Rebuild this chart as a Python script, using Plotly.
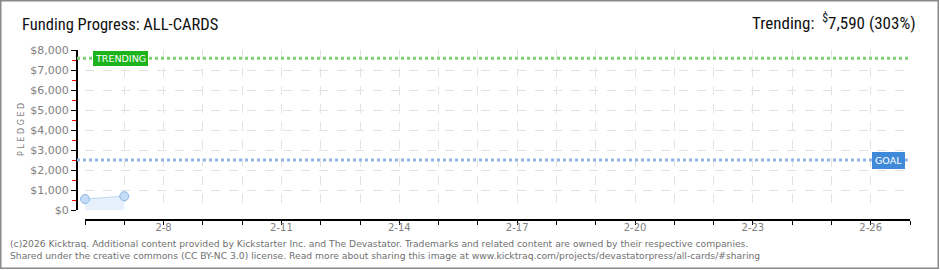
import plotly.graph_objects as go

# ---- data ----
dates = ["2026-02-06", "2026-02-07"]
pledged = [550, 690]
goal = 2500
trending = 7590
trending_pct = 303
x_start = "2026-02-06"
x_end = "2026-02-27"
y_max = 8000
title_text = "Funding Progress: ALL-CARDS"
footer_lines = [
    "(c)2026 Kicktraq. Additional content provided by Kickstarter Inc. and The Devastator. Trademarks and related content are owned by their respective companies.",
    "Shared under the creative commons (CC BY-NC 3.0) license. Read more about sharing this image at www.kicktraq.com/projects/devastatorpress/all-cards/#sharing",
]

W, H = 940, 270
ML, MR, MT, MB = 77, 30, 50, 50
PW, PH = W - ML - MR, H - MT - MB

def px(x):
    return (x - ML) / PW

def py(y):
    return (H - MB - y) / PH

FONT = "DejaVu Sans"
TFONT = "Liberation Sans Narrow, Roboto Condensed, Roboto"
GRAY = "#808080"

fig = go.Figure()

fig.add_trace(go.Scatter(
    x=dates, y=pledged, mode="lines+markers",
    fill="tozeroy", fillcolor="#e6f1fd",
    line=dict(color="#bcd6f2", width=1),
    marker=dict(size=9, color="#c4dcf6", line=dict(color="#90b8e4", width=1)),
    cliponaxis=False,
    hoverinfo="skip", showlegend=False,
))

# trending and goal lines
fig.add_shape(type="line", xref="paper", yref="y", x0=0, x1=1, y0=trending, y1=trending,
              line=dict(color="#7fcf76", width=3, dash="dot"))
fig.add_shape(type="line", xref="paper", yref="y", x0=0, x1=1, y0=goal, y1=goal,
              line=dict(color="#8fb8e4", width=3, dash="dot"))

# border
fig.add_shape(type="rect", xref="paper", yref="paper",
              x0=px(0.75), x1=px(W - 1.75), y0=py(0.75), y1=py(H - 1.75),
              line=dict(color="#8a8a8a", width=1.5), layer="above")

anns = []
anns.append(dict(x=px(93), y=trending, xref="paper", yref="y", text="TRENDING",
                 showarrow=False, xanchor="left", yanchor="middle",
                 font=dict(family=FONT, size=9.5, color="white"),
                 bgcolor="#1cb31c", borderpad=1, bordercolor="#1cb31c", borderwidth=1))
anns.append(dict(x=px(905), y=goal, xref="paper", yref="y", text="GOAL",
                 showarrow=False, xanchor="right", yanchor="middle",
                 font=dict(family=FONT, size=9.5, color="white"),
                 bgcolor="#3f8ad8", borderpad=2, bordercolor="#3f8ad8", borderwidth=1))
anns.append(dict(x=px(20), y=py(24), xref="paper", yref="paper", text=title_text,
                 showarrow=False, xanchor="left", yanchor="middle",
                 font=dict(family=TFONT, size=16.5, color="#111")))
anns.append(dict(x=px(918), y=py(22), xref="paper", yref="paper",
                 text=f"Trending:  <sup>$</sup>{trending:,} ({trending_pct}%)",
                 showarrow=False, xanchor="right", yanchor="middle",
                 font=dict(family=TFONT, size=17, color="#111")))
anns.append(dict(x=px(21), y=py(130), xref="paper", yref="paper", text="P L E D G E D",
                 showarrow=False, textangle=-90, xanchor="center", yanchor="middle",
                 font=dict(family=FONT, size=8, color=GRAY)))
for i, line in enumerate(footer_lines):
    anns.append(dict(x=px(8), y=py(243 + 13 * i), xref="paper", yref="paper", text=line,
                     showarrow=False, xanchor="left", yanchor="middle",
                     font=dict(family=FONT, size=9.2, color="#707070")))

fig.update_layout(
    width=W, height=H,
    margin=dict(l=ML, r=MR, t=MT, b=MB, pad=0),
    paper_bgcolor="white", plot_bgcolor="white",
    annotations=anns,
    xaxis=dict(
        domain=[px(85), 1], anchor="free", position=0,
        type="date", range=[x_start, x_end],
        tick0="2026-02-08", dtick=3 * 86400000, tickformat="%-m-%-d",
        ticks="outside", ticklen=4, tickcolor="black", tickwidth=1,
        ticklabelstandoff=-6,
        showline=True, linecolor="black", linewidth=2,
        showgrid=True, gridcolor="#e2e2e2", griddash="dash", gridwidth=1,
        tickfont=dict(family=FONT, size=10, color=GRAY),
        minor=dict(dtick=86400000, tick0=x_start, ticks="outside", ticklen=4,
                   tickcolor="black", showgrid=True, gridcolor="#e2e2e2", griddash="dash"),
        zeroline=False, fixedrange=True,
    ),
    yaxis=dict(
        domain=[py(210), 1], anchor="free", position=0,
        range=[0, y_max], dtick=1000, tickprefix="$", tickformat=",d",
        ticks="outside", ticklen=5, tickcolor="black", tickwidth=1,
        showline=True, linecolor="black", linewidth=2,
        showgrid=True, gridcolor="#e2e2e2", griddash="dash",
        tickfont=dict(family=FONT, size=11, color=GRAY),
        minor=dict(dtick=500, ticks="outside", ticklen=4, tickcolor="red", showgrid=False),
        zeroline=False, fixedrange=True,
    ),
)

fig.write_html("out.html")
